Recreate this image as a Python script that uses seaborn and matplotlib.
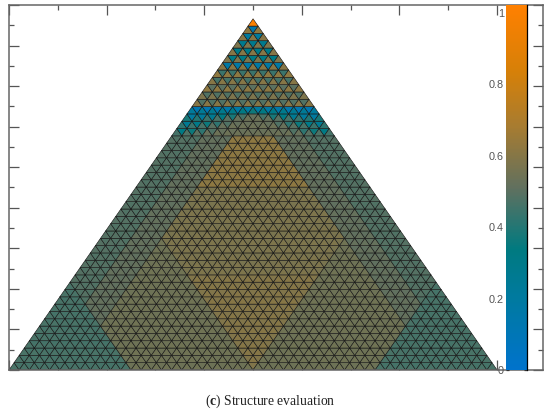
import numpy as np
import matplotlib
matplotlib.use("Agg")
import matplotlib.pyplot as plt
import matplotlib.tri as mtri
from matplotlib.ticker import MultipleLocator
import seaborn as sns

sns.set_style("white")
plt.rcParams['font.family'] = ['Liberation Sans', 'DejaVu Sans']
plt.rcParams['mathtext.fontset'] = 'custom'
plt.rcParams['mathtext.rm'] = 'Liberation Serif'
plt.rcParams['mathtext.bf'] = 'Liberation Serif:bold'

# mesh size and the values
n_rows = 48
corner_val = 0.47
edge_val = 0.49
near_edge_val = 0.52
outer_val = 0.55
diamond_low = 0.60
diamond_mid = 0.58
diamond_high = 0.62

# top part, rows 36..47 counted from the base
top_up = [0.60, 0.58, 0.62, 0.60, 0.62, 0.60, 0.58, 0.60, 0.58, 0.60, 0.62, 1.0]
top_down = [0.48, 0.48, 0.50, 0.46, 0.44, 0.18, 0.32, 0.30, 0.28, 0.22, 0.14]

# rows just below the top part, by cell distance from the side
band_rows = [35, 34, 33, 32]
band_up = [
    [0.22, 0.24, 0.26, 0.28, 0.30, 0.32, 0.36, 0.40, 0.44, 0.48, 0.50],
    [0.38, 0.40, 0.44, 0.47, 0.50, 0.53, 0.54, 0.54, 0.54, 0.54, 0.54],
    [0.42, 0.44, 0.47, 0.50, 0.53, 0.54, 0.54, 0.54, 0.54, 0.54, 0.54],
    [0.46, 0.48, 0.50, 0.53, 0.54, 0.54, 0.54, 0.54, 0.54, 0.54, 0.54],
]
band_down = [
    [0.12, 0.12, 0.14, 0.16, 0.18, 0.20, 0.24, 0.30, 0.36, 0.42, 0.48],
    [0.20, 0.22, 0.26, 0.32, 0.38, 0.46, 0.52, 0.53, 0.53, 0.53, 0.53],
    [0.26, 0.30, 0.36, 0.42, 0.48, 0.52, 0.53, 0.53, 0.53, 0.53, 0.53],
    [0.32, 0.36, 0.42, 0.48, 0.52, 0.53, 0.53, 0.53, 0.53, 0.53, 0.53],
]
down_shift = -0.01

cbar_ticks = [0, 0.2, 0.4, 0.6, 0.8, 1]
cbar_labels = ['0', '0.2', '0.4', '0.6', '0.8', '1']
cbar_top = 1.022
cmap_colors = ['#0073cc', '#007a9e', '#007a80', '#60705f', '#a87c30', '#d68008', '#ff8000']
cmap_stops = [0.0, 0.2, 0.33, 0.5, 0.67, 0.82, 1.0]

caption = r"($\mathbf{c}$) Structure evaluation"


def cell_value(k, d_left, d_right, is_down):
    # d_left/d_right are the distances from the two sloped sides as a share of the side
    d_top = k / n_rows
    lam_r, lam_l = d_left, d_right
    if k >= 36:
        row = k - 36
        return top_down[row] if is_down else top_up[row]
    if k in band_rows:
        row = band_rows.index(k)
        j = int(min(d_left, d_right) * n_rows)
        vals = band_down[row] if is_down else band_up[row]
        if j < len(vals):
            return vals[j]
    if lam_l > 0.75 or lam_r > 0.75:
        val = corner_val
    elif 0.125 < lam_r < 0.5 and 0.125 < lam_l < 0.5:
        if d_top > 0.5:
            val = diamond_high
        elif d_top > 0.25:
            val = diamond_mid
        else:
            val = diamond_low
    elif lam_r < 0.0625 or lam_l < 0.0625:
        val = edge_val
    elif lam_r < 0.125 or lam_l < 0.125:
        val = near_edge_val
    else:
        val = outer_val
    return val + (down_shift if is_down else 0)


# build the triangular mesh
xs, ys, index = [], [], {}
for k in range(n_rows + 1):
    for j in range(n_rows - k + 1):
        index[(k, j)] = len(xs)
        xs.append((j + k / 2) / n_rows)
        ys.append(k / n_rows * np.sqrt(3) / 2)

cells, vals = [], []
for k in range(n_rows):
    for j in range(n_rows - k):
        cells.append([index[(k, j)], index[(k, j + 1)], index[(k + 1, j)]])
        left = (j + 1 / 3) / n_rows
        right = (n_rows - k - j - 2 / 3) / n_rows
        vals.append(cell_value(k, left, right, False))
        if j < n_rows - k - 1:
            cells.append([index[(k, j + 1)], index[(k + 1, j + 1)], index[(k + 1, j)]])
            left = (j + 2 / 3) / n_rows
            right = (n_rows - k - j - 1 - 1 / 3) / n_rows
            vals.append(cell_value(k, left, right, True))

# the blend runs through the colours at the stops
fine = sns.blend_palette(cmap_colors, n_colors=len(cmap_colors))
cmap = matplotlib.colors.LinearSegmentedColormap.from_list('structure', list(zip(cmap_stops, fine)), N=256)

W, H = 550, 413
fig = plt.figure(figsize=(W / 100, H / 100), dpi=100)
ax = fig.add_axes([9 / W, 1 - 370 / H, (543 - 9) / W, (370 - 5) / H])

mesh = ax.tripcolor(mtri.Triangulation(xs, ys, cells), facecolors=np.array(vals),
                    cmap=cmap, vmin=0, vmax=cbar_top, edgecolors='#151515', linewidth=0.42)
ax.set_xlim(0, 1.094)
ax.set_ylim(0, 0.9)

for side in ax.spines.values():
    side.set_color('#666666')
    side.set_linewidth(1.1)
    side.set_visible(True)
ax.xaxis.set_major_locator(MultipleLocator(0.2))
ax.xaxis.set_minor_locator(MultipleLocator(0.1))
ax.yaxis.set_major_locator(MultipleLocator(0.1))
ax.yaxis.set_minor_locator(MultipleLocator(0.05))
ax.tick_params(which='both', direction='in', top=True, bottom=True, left=True, right=True,
               labelbottom=False, labelleft=False, color='#555555', width=0.9)
ax.tick_params(which='major', length=7.2)
ax.tick_params(which='minor', length=3.6)

cax = fig.add_axes([506 / W, 1 - 370 / H, 21 / W, 365 / H])
cbar = fig.colorbar(mesh, cax=cax)
cbar.outline.set_visible(False)
cbar.set_ticks(cbar_ticks, labels=cbar_labels)
cbar.minorticks_off()
cax.tick_params(which='major', direction='in', left=True, right=True, labelleft=True, labelright=False,
                length=2.5, width=0.9, color='#333333', labelcolor='#555555', labelsize=7.8, pad=1.5)
cax.spines['right'].set_visible(True)
cax.spines['right'].set_color('black')
cax.spines['right'].set_linewidth(0.9)

fig.text(270.5 / W, 1 - 405 / H, caption, family='Liberation Serif', fontsize=9.8,
         ha='center', va='baseline', color='#222222')

fig.savefig('out.png', dpi=100)
